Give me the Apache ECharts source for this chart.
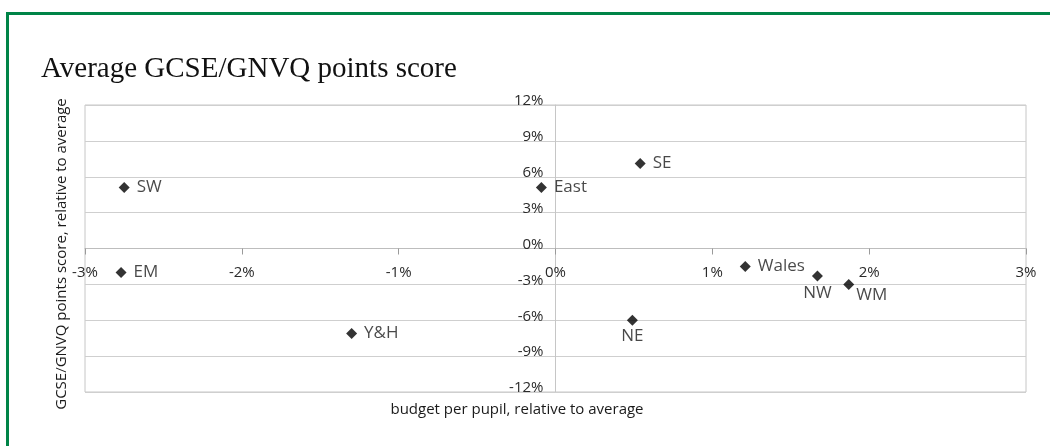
<!DOCTYPE html>
<html><head><meta charset="utf-8">
<script src="https://cdn.jsdelivr.net/npm/echarts@6/dist/echarts.min.js"></script>
<style>html,body{margin:0;padding:0;background:#fff}#c{width:1050px;height:446px}</style>
</head><body><div id="c"></div>
<script>
// Data
const regions = ['SW', 'EM', 'Y&H', 'East', 'SE', 'NE', 'Wales', 'NW', 'WM'];
const budget = [-2.75, -2.77, -1.30, -0.09, 0.54, 0.49, 1.21, 1.67, 1.87]; // % vs average
const score = [5.1, -2.0, -7.1, 5.1, 7.1, -6.0, -1.5, -2.3, -3.0];          // % vs average
const xRange = [-3, 3];
const yRange = [-12, 12];
const titleText = 'Average GCSE/GNVQ points score';
const xName = 'budget per pupil, relative to average';
const yName = 'GCSE/GNVQ points score, relative to average';

const FONT = 'Open Sans';
const GRID = { left: 85, right: 24, top: 105, bottom: 54 };
const W = 1050, H = 446;
const gw = W - GRID.left - GRID.right, gh = H - GRID.top - GRID.bottom;
// shift axes so they cross at the zero point (as in the reference)
const xAxisOffset = -gh * (0 - yRange[0]) / (yRange[1] - yRange[0]);
const yAxisOffset = -gw * (0 - xRange[0]) / (xRange[1] - xRange[0]);

const labelPlacement = {
  NW: { position: 'bottom', distance: 3 },
  NE: { position: 'bottom', distance: 2 },
  WM: { position: 'right', distance: 2, offset: [0, 11] }
};

const points = regions.map((r, i) => {
  const lp = labelPlacement[r] || { position: 'right', distance: 7 };
  return { name: r, value: [budget[i], score[i]], label: Object.assign({}, lp) };
});

const chart = echarts.init(document.getElementById('c'), null, { renderer: 'canvas' });
chart.setOption({
  animation: false,
  backgroundColor: '#fff',
  title: {
    text: titleText, left: 36, top: 50,
    textStyle: { fontFamily: 'Liberation Serif', fontSize: 29, fontWeight: 'normal', color: '#111' }
  },
  grid: Object.assign({ show: true, borderColor: '#c6c6c6', borderWidth: 1, containLabel: false }, GRID),
  xAxis: {
    type: 'value', min: xRange[0], max: xRange[1], interval: 1,
    position: 'bottom', offset: xAxisOffset,
    axisLine: { show: true, onZero: false, lineStyle: { color: '#bdbdbd', width: 1 } },
    axisTick: { show: true, length: 6, lineStyle: { color: '#9a9a9a' } },
    splitLine: { show: false },
    axisLabel: { formatter: v => v + '%', margin: 17, fontFamily: FONT, fontSize: 15, color: '#2a2a2a' }
  },
  yAxis: {
    type: 'value', min: yRange[0], max: yRange[1], interval: 3,
    position: 'left', offset: yAxisOffset,
    axisLine: { show: true, onZero: false, lineStyle: { color: '#c6c6c6', width: 1 } },
    axisTick: { show: false },
    splitLine: { show: true, lineStyle: { color: '#cfcfcf', width: 1 } },
    axisLabel: { formatter: v => v + '%', margin: 12, verticalAlign: 'bottom', lineHeight: 8, fontFamily: FONT, fontSize: 15, color: '#2a2a2a' }
  },
  graphic: [
    { type: 'line', shape: { x1: 6, y1: 13.5, x2: 1050, y2: 13.5 }, style: { stroke: '#008447', lineWidth: 3 }, silent: true },
    { type: 'line', shape: { x1: 7.5, y1: 12, x2: 7.5, y2: 446 }, style: { stroke: '#008447', lineWidth: 3 }, silent: true },
    { type: 'text', x: 517, y: 410, style: { text: xName, font: '15px "' + FONT + '"', fill: '#1a1a1a', textAlign: 'center', textVerticalAlign: 'middle' } },
    { type: 'text', x: 62, y: 254, rotation: Math.PI / 2, style: { text: yName, font: '15px "' + FONT + '"', fill: '#1a1a1a', textAlign: 'center', textVerticalAlign: 'middle' } }
  ],
  series: [{
    type: 'scatter',
    symbol: 'diamond',
    symbolSize: 11,
    itemStyle: { color: '#000' },
    label: { show: true, formatter: p => p.name, fontFamily: FONT, fontSize: 17, color: '#1a1a1a' },
    data: points
  }]
});
</script></body></html>
